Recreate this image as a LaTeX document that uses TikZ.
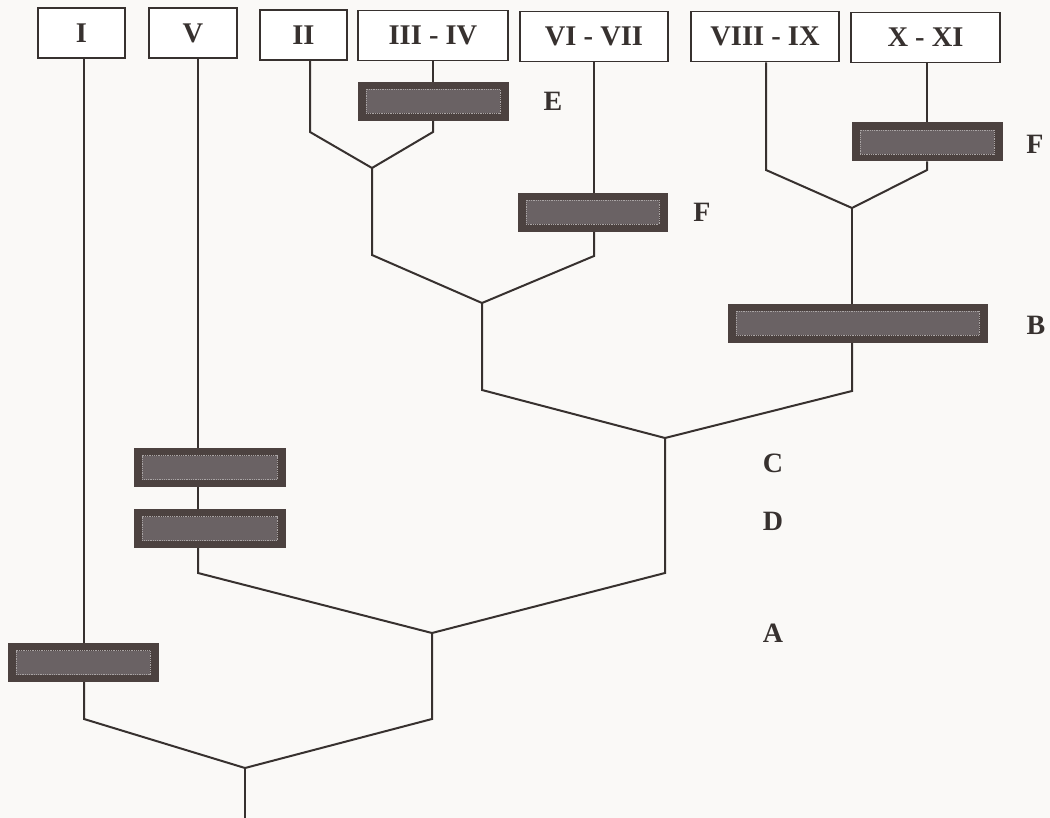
\documentclass[tikz,border=0pt]{standalone}
\usepackage{fontspec}
\setmainfont{Liberation Serif}
\usetikzlibrary{calc}
\definecolor{ink}{RGB}{55,49,47}
\definecolor{bardark}{RGB}{76,66,64}
\definecolor{barmid}{RGB}{106,98,100}
\definecolor{barlight}{RGB}{170,165,165}
\definecolor{bg}{RGB}{250,249,247}
\tikzset{
  ln/.style={draw=ink, line width=2pt, line join=miter},
  tbox/.style={draw=ink, line width=1.6pt, fill=white, minimum height=50, inner sep=0pt,
    text=ink, font=\bfseries\fontsize{28.5}{28.5}\selectfont},
  darkbar/.style={draw=bardark, fill=bardark, line width=1pt, minimum width=#1, minimum height=38,
    inner sep=0pt, path picture={
      \fill[barmid, draw=barlight, densely dotted, line width=0.8pt]
        ($(path picture bounding box.south west)+(8,-7)$) rectangle
        ($(path picture bounding box.north east)+(-8,7)$);}},
  lbl/.style={text=ink, font=\bfseries\fontsize{28}{28}\selectfont, inner sep=0pt}
}
\begin{document}
\begin{tikzpicture}[x=1pt,y=-1pt]
\fill[bg] (0,0) rectangle (1050,818);
\useasboundingbox (0,0) rectangle (1050,818);
% top boxes
\node[tbox, minimum width=87] (I) at (81.5,33) {I};
\node[tbox, minimum width=88] (V) at (193,33) {V};
\node[tbox, minimum width=87] (II) at (303.5,35) {II};
\node[tbox, minimum width=150] (III) at (433,35.5) {III - IV};
\node[tbox, minimum width=148] (VI) at (594,36.5) {VI - VII};
\node[tbox, minimum width=148] (VIII) at (765,36.5) {VIII - IX};
\node[tbox, minimum width=149] (X) at (925.5,37.5) {X - XI};
% dark bars
\node[darkbar=150] (bE) at (433,101.5) {};
\node[darkbar=149] (bF1) at (592.5,212.5) {};
\node[darkbar=150] (bF2) at (927,142) {};
\node[darkbar=259] (bB) at (857.5,323.5) {};
\node[darkbar=151] (bC) at (209.5,467.5) {};
\node[darkbar=151] (bD) at (209.5,528.5) {};
\node[darkbar=150] (bA) at (83,662.5) {};
% labels
\node[lbl] (lE) at (553,101) {E};
\node[lbl] (lF1) at (702,212) {F};
\node[lbl] (lF2) at (1035,144) {F};
\node[lbl] (lB) at (1036,325) {B};
\node[lbl] (lC) at (773,463) {C};
\node[lbl] (lD) at (773,521) {D};
\node[lbl] (lA) at (773,633) {A};
% x positions of the vertical lines
\coordinate (xI) at (84,0);
\coordinate (xV) at (198,0);
\coordinate (xII) at (310,0);
\coordinate (xIII) at (433,0);
\coordinate (xVI) at (594,0);
\coordinate (xVIII) at (766,0);
\coordinate (xX) at (927,0);
% joints and elbows
\coordinate (j1) at (372,168);
\coordinate (j2) at (482,303);
\coordinate (j3) at (852,208);
\coordinate (j4) at (665,438);
\coordinate (j5) at (432,633);
\coordinate (j6) at (245,768);
\coordinate (e2l) at (372,255);
\coordinate (e2r) at (594,256);
\coordinate (e4l) at (482,390);
\coordinate (e4r) at (852,391);
\coordinate (e5l) at (198,573);
\coordinate (e5r) at (665,573);
\coordinate (e6l) at (84,719);
\coordinate (e6r) at (432,719);
\coordinate (root) at (245,818);
% II + III-IV
\draw[ln] (II.south -| xII) -- (310,132) -- (j1);
\draw[ln] (III.south -| xIII) -- (bE.north -| xIII);
\draw[ln] (bE.south -| xIII) -- (433,132) -- (j1);
% VI-VII
\draw[ln] (VI.south -| xVI) -- (bF1.north -| xVI);
\draw[ln] (bF1.south -| xVI) -- (e2r) -- (j2);
\draw[ln] (j1) -- (e2l) -- (j2);
% VIII-IX + X-XI
\draw[ln] (VIII.south -| xVIII) -- (766,170) -- (j3);
\draw[ln] (X.south -| xX) -- (bF2.north -| xX);
\draw[ln] (bF2.south -| xX) -- (927,170) -- (j3);
\draw[ln] (j3) -- (bB.north -| j3);
\draw[ln] (bB.south -| j3) -- (e4r) -- (j4);
\draw[ln] (j2) -- (e4l) -- (j4);
% V
\draw[ln] (V.south -| xV) -- (bC.north -| xV);
\draw[ln] (bC.south -| xV) -- (bD.north -| xV);
\draw[ln] (bD.south -| xV) -- (e5l) -- (j5);
\draw[ln] (j4) -- (e5r) -- (j5);
% I
\draw[ln] (I.south -| xI) -- (bA.north -| xI);
\draw[ln] (bA.south -| xI) -- (e6l) -- (j6);
\draw[ln] (j5) -- (e6r) -- (j6);
\draw[ln] (j6) -- (root);
\end{tikzpicture}
\end{document}
